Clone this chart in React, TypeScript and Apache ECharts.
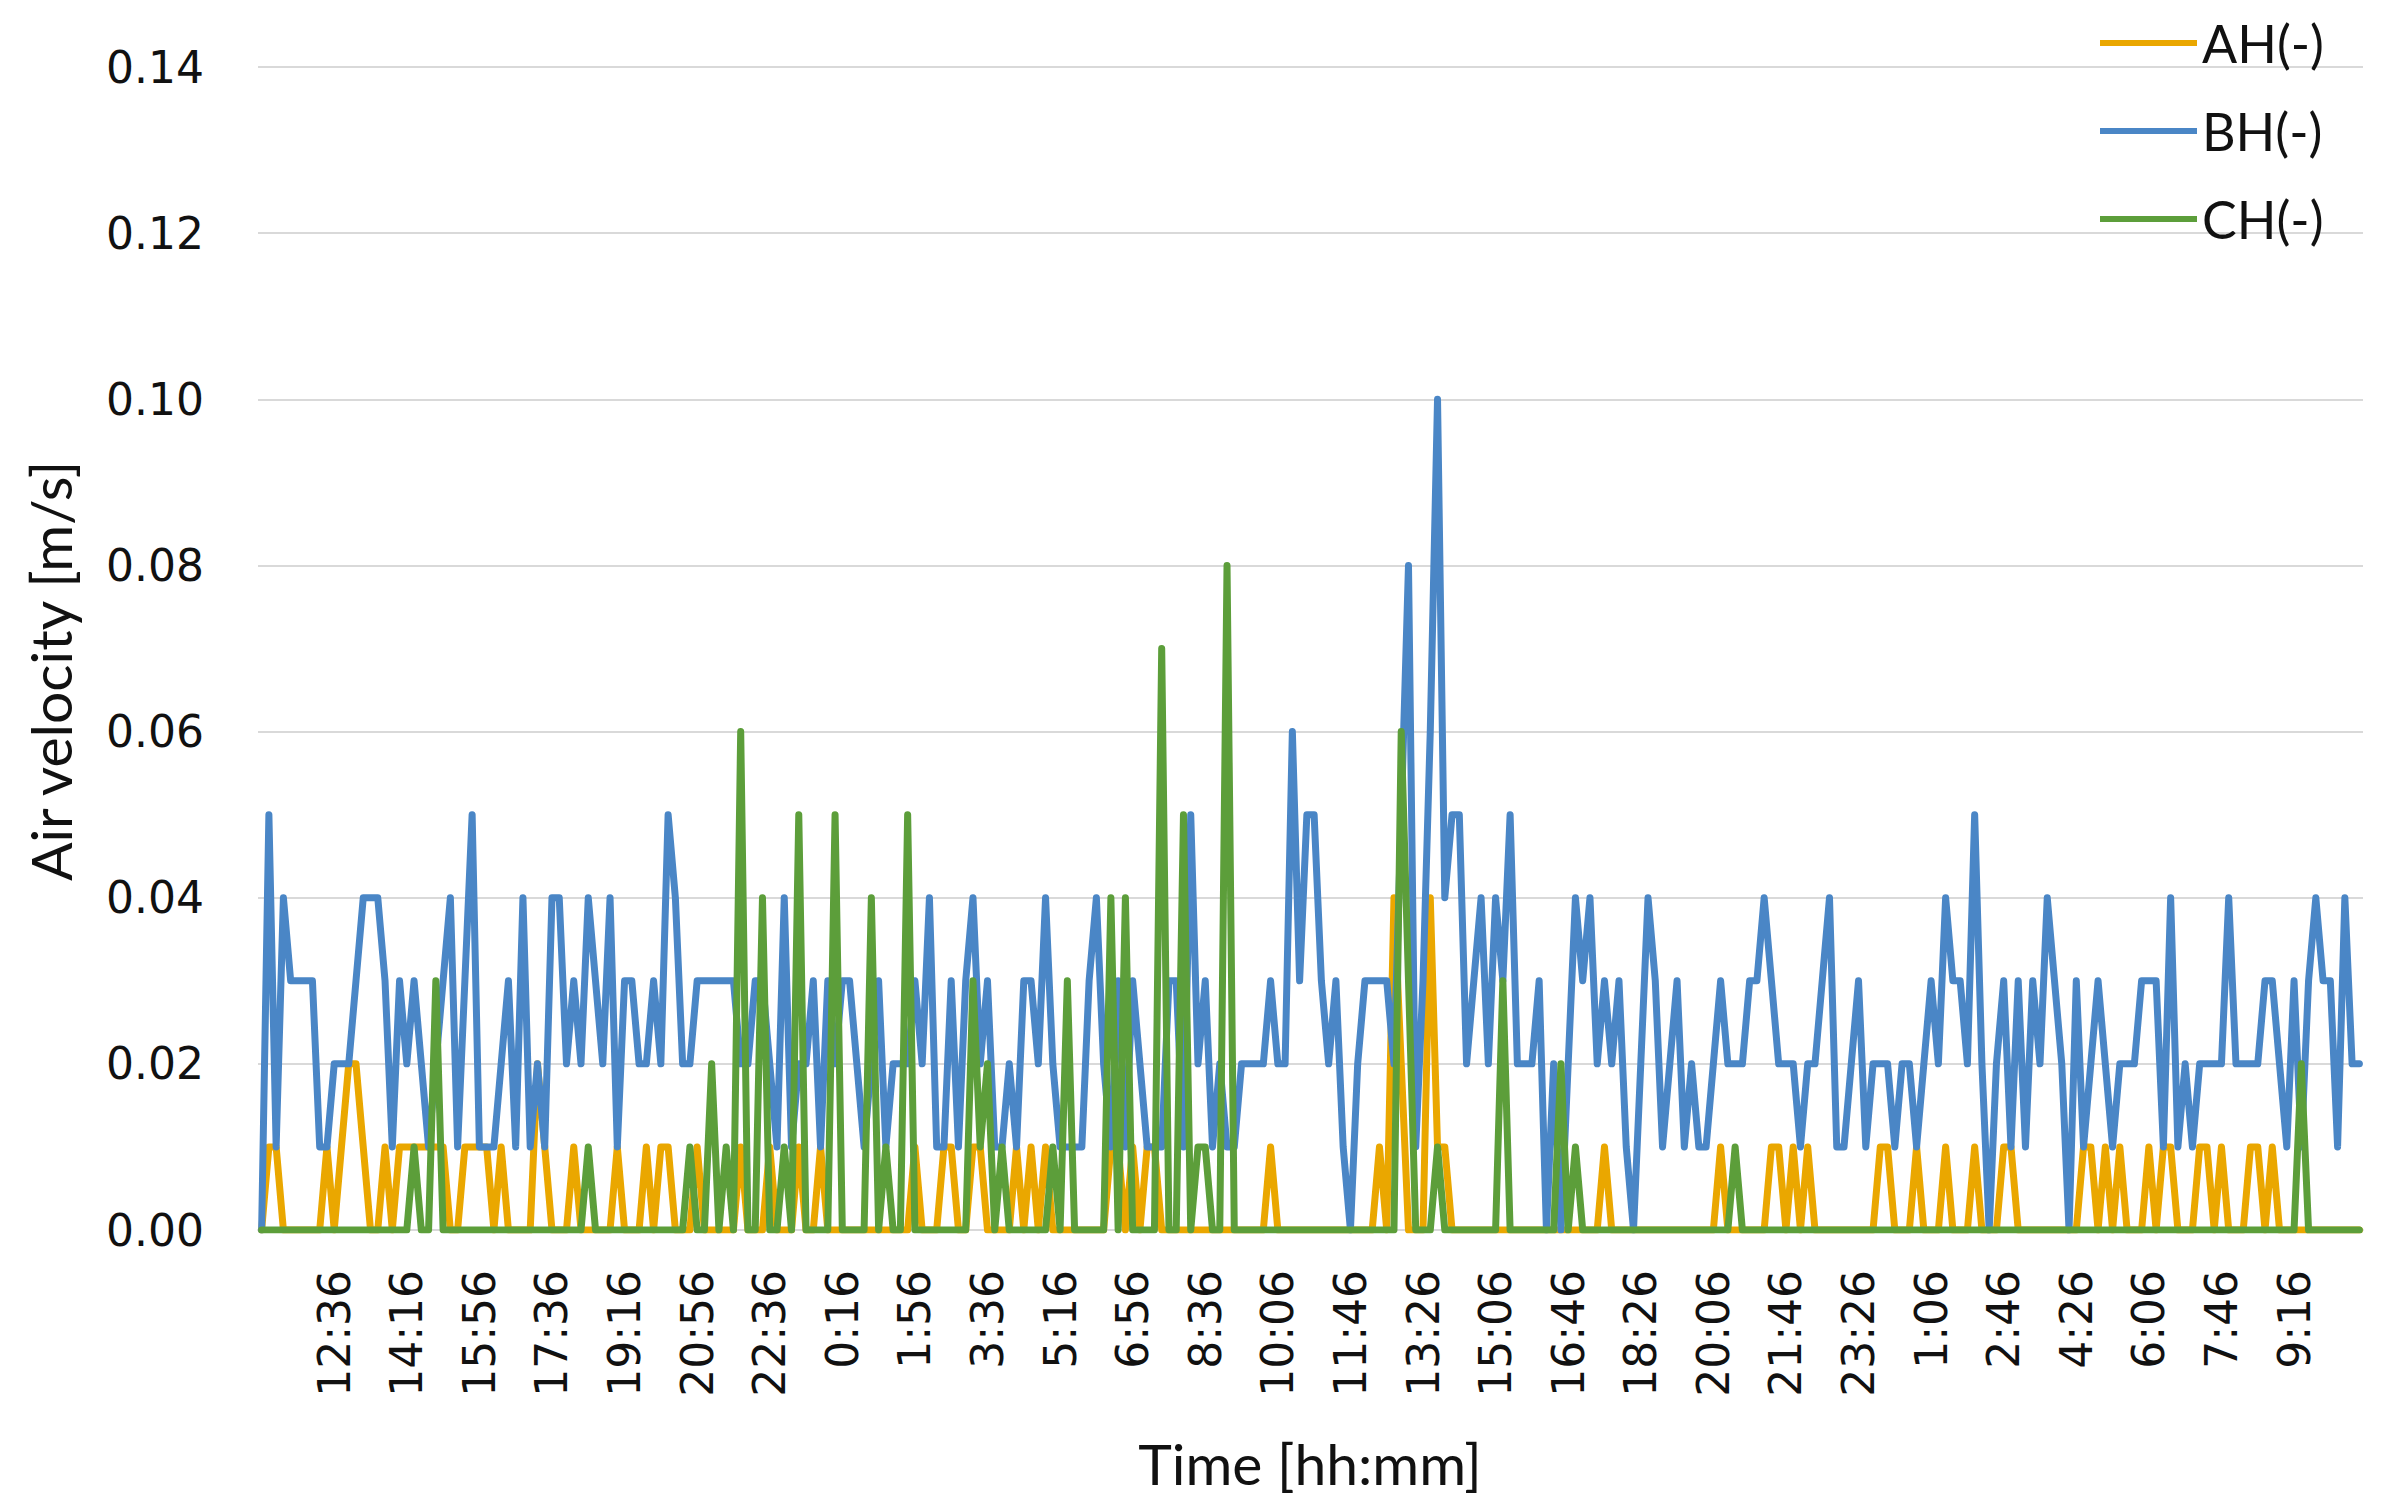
import React, { useEffect, useRef } from "react";
import * as echarts from "echarts";

// Visible tick labels (every 10th category, starting at category 10)
const tickLabels = [
  "12:36", "14:16", "15:56", "17:36", "19:16", "20:56", "22:36", "0:16", "1:56", "3:36",
  "5:16", "6:56", "8:36", "10:06", "11:46", "13:26", "15:06", "16:46", "18:26", "20:06",
  "21:46", "23:26", "1:06", "2:46", "4:26", "6:06", "7:46", "9:16",
];

const seriesNames = ["AH(-)", "BH(-)", "CH(-)"];
const seriesColors = ["#EAA700", "#4A86C6", "#5C9E3A"];

const AH = [
  0, 0.01, 0.01, 0, 0, 0, 0, 0, 0, 0.01,
  0, 0.01, 0.02, 0.02, 0.01, 0, 0, 0.01, 0, 0.01,
  0.01, 0.01, 0.01, 0.01, 0.01, 0.01, 0, 0, 0.01, 0.01,
  0.01, 0.01, 0, 0.01, 0, 0, 0, 0, 0.02, 0.01,
  0, 0, 0, 0.01, 0, 0, 0, 0, 0, 0.01,
  0, 0, 0, 0.01, 0, 0.01, 0.01, 0, 0, 0,
  0.01, 0, 0, 0, 0, 0, 0.01, 0, 0, 0,
  0.01, 0, 0, 0, 0.01, 0, 0, 0.01, 0, 0,
  0, 0, 0, 0, 0, 0, 0, 0, 0, 0,
  0.01, 0, 0, 0, 0.01, 0.01, 0, 0, 0.01, 0.01,
  0, 0, 0, 0, 0.01, 0, 0.01, 0, 0.01, 0,
  0, 0, 0, 0, 0, 0, 0, 0.01, 0.01, 0,
  0.01, 0, 0.01, 0.01, 0, 0, 0, 0, 0, 0,
  0, 0, 0, 0, 0, 0, 0, 0, 0, 0.01,
  0, 0, 0, 0, 0, 0, 0, 0, 0, 0,
  0, 0, 0, 0, 0.01, 0, 0.04, 0.02, 0, 0,
  0, 0.04, 0.01, 0.01, 0, 0, 0, 0, 0, 0,
  0, 0, 0, 0, 0, 0, 0, 0, 0, 0,
  0, 0, 0, 0, 0, 0.01, 0, 0, 0, 0,
  0, 0, 0, 0, 0, 0, 0, 0, 0, 0,
  0, 0.01, 0, 0, 0, 0, 0, 0, 0.01, 0.01,
  0, 0.01, 0, 0.01, 0, 0, 0, 0, 0, 0,
  0, 0, 0, 0.01, 0.01, 0, 0, 0, 0.01, 0,
  0, 0, 0.01, 0, 0, 0, 0.01, 0, 0, 0,
  0.01, 0.01, 0, 0, 0, 0, 0, 0, 0, 0,
  0, 0.01, 0.01, 0, 0.01, 0, 0.01, 0, 0, 0,
  0.01, 0, 0.01, 0.01, 0, 0, 0, 0.01, 0.01, 0,
  0.01, 0, 0, 0, 0.01, 0.01, 0, 0.01, 0, 0,
  0, 0, 0, 0, 0, 0, 0, 0, 0, 0,
];

const BH = [
  0, 0.05, 0.01, 0.04, 0.03, 0.03, 0.03, 0.03, 0.01, 0.01,
  0.02, 0.02, 0.02, 0.03, 0.04, 0.04, 0.04, 0.03, 0.01, 0.03,
  0.02, 0.03, 0.02, 0.01, 0.02, 0.03, 0.04, 0.01, 0.03, 0.05,
  0.01, 0.01, 0.01, 0.02, 0.03, 0.01, 0.04, 0.01, 0.02, 0.01,
  0.04, 0.04, 0.02, 0.03, 0.02, 0.04, 0.03, 0.02, 0.04, 0.01,
  0.03, 0.03, 0.02, 0.02, 0.03, 0.02, 0.05, 0.04, 0.02, 0.02,
  0.03, 0.03, 0.03, 0.03, 0.03, 0.03, 0.02, 0.02, 0.03, 0.03,
  0.02, 0.01, 0.04, 0.01, 0.02, 0.02, 0.03, 0.01, 0.03, 0.02,
  0.03, 0.03, 0.02, 0.01, 0.02, 0.03, 0.01, 0.02, 0.02, 0.02,
  0.03, 0.02, 0.04, 0.01, 0.01, 0.03, 0.01, 0.03, 0.04, 0.02,
  0.03, 0.01, 0.01, 0.02, 0.01, 0.03, 0.03, 0.02, 0.04, 0.02,
  0.01, 0.01, 0.01, 0.01, 0.03, 0.04, 0.02, 0.01, 0.03, 0.01,
  0.03, 0.02, 0.01, 0.01, 0.01, 0.03, 0.03, 0.01, 0.05, 0.02,
  0.03, 0.01, 0.02, 0.01, 0.01, 0.02, 0.02, 0.02, 0.02, 0.03,
  0.02, 0.02, 0.06, 0.03, 0.05, 0.05, 0.03, 0.02, 0.03, 0.01,
  0, 0.02, 0.03, 0.03, 0.03, 0.03, 0.02, 0.05, 0.08, 0.01,
  0.03, 0.06, 0.1, 0.04, 0.05, 0.05, 0.02, 0.03, 0.04, 0.02,
  0.04, 0.03, 0.05, 0.02, 0.02, 0.02, 0.03, 0, 0.02, 0,
  0.02, 0.04, 0.03, 0.04, 0.02, 0.03, 0.02, 0.03, 0.01, 0,
  0.02, 0.04, 0.03, 0.01, 0.02, 0.03, 0.01, 0.02, 0.01, 0.01,
  0.02, 0.03, 0.02, 0.02, 0.02, 0.03, 0.03, 0.04, 0.03, 0.02,
  0.02, 0.02, 0.01, 0.02, 0.02, 0.03, 0.04, 0.01, 0.01, 0.02,
  0.03, 0.01, 0.02, 0.02, 0.02, 0.01, 0.02, 0.02, 0.01, 0.02,
  0.03, 0.02, 0.04, 0.03, 0.03, 0.02, 0.05, 0.02, 0, 0.02,
  0.03, 0.01, 0.03, 0.01, 0.03, 0.02, 0.04, 0.03, 0.02, 0,
  0.03, 0.01, 0.02, 0.03, 0.02, 0.01, 0.02, 0.02, 0.02, 0.03,
  0.03, 0.03, 0.01, 0.04, 0.01, 0.02, 0.01, 0.02, 0.02, 0.02,
  0.02, 0.04, 0.02, 0.02, 0.02, 0.02, 0.03, 0.03, 0.02, 0.01,
  0.03, 0.01, 0.03, 0.04, 0.03, 0.03, 0.01, 0.04, 0.02, 0.02,
];

const CH = [
  0, 0, 0, 0, 0, 0, 0, 0, 0, 0,
  0, 0, 0, 0, 0, 0, 0, 0, 0, 0,
  0, 0.01, 0, 0, 0.03, 0, 0, 0, 0, 0,
  0, 0, 0, 0, 0, 0, 0, 0, 0, 0,
  0, 0, 0, 0, 0, 0.01, 0, 0, 0, 0,
  0, 0, 0, 0, 0, 0, 0, 0, 0, 0.01,
  0, 0, 0.02, 0, 0.01, 0, 0.06, 0, 0, 0.04,
  0, 0, 0.01, 0, 0.05, 0, 0, 0, 0, 0.05,
  0, 0, 0, 0, 0.04, 0, 0.01, 0, 0, 0.05,
  0, 0, 0, 0, 0, 0, 0, 0, 0.03, 0.01,
  0.02, 0, 0.01, 0, 0, 0, 0, 0, 0, 0.01,
  0, 0.03, 0, 0, 0, 0, 0, 0.04, 0, 0.04,
  0, 0, 0, 0, 0.07, 0, 0, 0.05, 0, 0.01,
  0.01, 0, 0, 0.08, 0, 0, 0, 0, 0, 0,
  0, 0, 0, 0, 0, 0, 0, 0, 0, 0,
  0, 0, 0, 0, 0, 0, 0, 0.06, 0.03, 0,
  0, 0, 0.01, 0, 0, 0, 0, 0, 0, 0,
  0, 0.03, 0, 0, 0, 0, 0, 0, 0, 0.02,
  0, 0.01, 0, 0, 0, 0, 0, 0, 0, 0,
  0, 0, 0, 0, 0, 0, 0, 0, 0, 0,
  0, 0, 0, 0.01, 0, 0, 0, 0, 0, 0,
  0, 0, 0, 0, 0, 0, 0, 0, 0, 0,
  0, 0, 0, 0, 0, 0, 0, 0, 0, 0,
  0, 0, 0, 0, 0, 0, 0, 0, 0, 0,
  0, 0, 0, 0, 0, 0, 0, 0, 0, 0,
  0, 0, 0, 0, 0, 0, 0, 0, 0, 0,
  0, 0, 0, 0, 0, 0, 0, 0, 0, 0,
  0, 0, 0, 0, 0, 0, 0, 0, 0, 0,
  0, 0.02, 0, 0, 0, 0, 0, 0, 0, 0,
];

const LABEL_EVERY = 10;
const FIRST_LABEL_INDEX = 10;

function toMin(s: string): number {
  const [h, m] = s.split(":").map(Number);
  return h * 60 + m;
}
function fmt(m: number): string {
  const mm = ((Math.round(m) % 1440) + 1440) % 1440;
  const h = Math.floor(mm / 60);
  const r = mm % 60;
  return `${h}:${String(r).padStart(2, "0")}`;
}

function buildCategories(n: number): string[] {
  const abs: number[] = [];
  tickLabels.forEach((t, j) => {
    if (j === 0) abs.push(toMin(t));
    else {
      const diff = (toMin(t) - toMin(tickLabels[j - 1]) + 1440) % 1440;
      abs.push(abs[j - 1] + diff);
    }
  });
  const last = tickLabels.length - 1;
  const out: string[] = [];
  for (let k = 0; k < n; k++) {
    const pos = (k - FIRST_LABEL_INDEX) / LABEL_EVERY;
    let m: number;
    if (pos < 0) m = abs[0] + (k - FIRST_LABEL_INDEX) * 10;
    else if (pos >= last) m = abs[last] + (k - (FIRST_LABEL_INDEX + last * LABEL_EVERY)) * 10;
    else {
      const j = Math.floor(pos);
      const f = pos - j;
      m = abs[j] + (abs[j + 1] - abs[j]) * f;
    }
    out.push(fmt(m));
  }
  return out;
}

export default function App() {
  const ref = useRef<HTMLDivElement>(null);

  useEffect(() => {
    document.body.style.margin = "0";
    if (!ref.current) return;
    const chart = echarts.init(ref.current, undefined, { renderer: "svg" });
    const categories = buildCategories(BH.length);
    const lastLabelIndex = FIRST_LABEL_INDEX + (tickLabels.length - 1) * LABEL_EVERY;
    const dataSets = [AH, BH, CH];

    chart.setOption({
      animation: false,
      backgroundColor: "#ffffff",
      grid: { left: 258, top: 67, width: 2105, height: 1163, containLabel: false },
      legend: {
        orient: "vertical",
        left: 2100,
        top: 13,
        padding: 0,
        itemGap: 28,
        itemWidth: 97,
        itemHeight: 6,
        icon: "rect",
        data: seriesNames,
        textStyle: { fontFamily: "Lato", fontSize: 52, color: "#111", lineHeight: 60 },
      },
      xAxis: {
        type: "category",
        data: categories,
        boundaryGap: true,
        axisLine: { show: true, lineStyle: { color: "#D9D9D9", width: 2 } },
        axisTick: { show: false },
        splitLine: { show: false },
        axisLabel: {
          rotate: 90,
          margin: 40,
          fontFamily: "DejaVu Sans",
          fontSize: 44,
          color: "#111",
          interval: (index: number) =>
            index % LABEL_EVERY === 0 && index >= FIRST_LABEL_INDEX && index <= lastLabelIndex,
        },
      },
      yAxis: {
        type: "value",
        min: 0,
        max: 0.14,
        interval: 0.02,
        axisLine: { show: false },
        axisTick: { show: false },
        splitLine: { show: true, lineStyle: { color: "#D9D9D9", width: 2 } },
        axisLabel: {
          margin: 54,
          fontFamily: "DejaVu Sans",
          fontSize: 44,
          color: "#111",
          formatter: (v: number) => v.toFixed(2),
        },
      },
      graphic: [
        {
          type: "text",
          x: 50,
          y: 671,
          rotation: Math.PI / 2,
          style: {
            text: "Air velocity [m/s]",
            fontFamily: "Lato",
            fontSize: 57,
            fill: "#111",
            align: "center",
            verticalAlign: "middle",
          },
        },
        {
          type: "text",
          x: 1310,
          y: 1463,
          style: {
            text: "Time [hh:mm]",
            fontFamily: "Lato",
            fontSize: 57,
            fill: "#111",
            align: "center",
            verticalAlign: "middle",
          },
        },
      ],
      series: dataSets.map((d, i) => ({
        name: seriesNames[i],
        type: "line",
        data: d,
        showSymbol: false,
        symbol: "none",
        emphasis: { disabled: true },
        itemStyle: { color: seriesColors[i] },
        lineStyle: { width: 7, color: seriesColors[i], join: "round", cap: "round" },
      })),
    });

    return () => chart.dispose();
  }, []);

  return <div ref={ref} style={{ width: 2384, height: 1507 }} />;
}
